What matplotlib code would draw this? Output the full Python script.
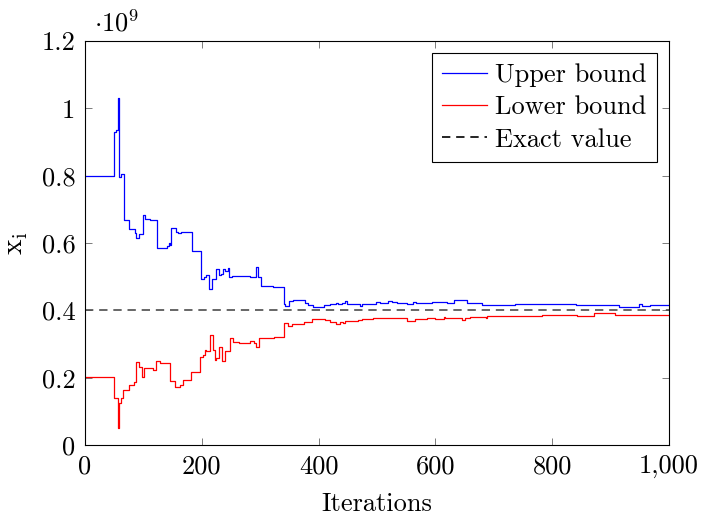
import numpy as np
import matplotlib
matplotlib.use("Agg")
import matplotlib.pyplot as plt
import matplotlib.ticker as mtick

plt.rcParams['font.family'] = 'serif'
plt.rcParams['font.serif'] = ['cmr10', 'DejaVu Serif']
plt.rcParams['mathtext.fontset'] = 'cm'
plt.rcParams['axes.formatter.use_mathtext'] = True

# step breakpoints (iteration, value in units of 1e9)
upper_it = [0, 50, 53, 56, 59, 62, 66, 76, 86, 88, 93, 100, 103, 111, 124, 140, 143, 146,
            148, 155, 160, 165, 184, 198, 204, 207, 213, 218, 225, 230, 233, 236, 239, 245,
            247, 251, 283, 292, 297, 302, 322, 341, 343, 350, 357, 377, 382, 391, 409, 419,
            430, 434, 440, 445, 448, 471, 474, 499, 505, 519, 525, 534, 551, 562, 567, 594,
            620, 631, 654, 665, 680, 737, 840, 914, 948, 954, 968, 1000]
upper_val = [0.800, 0.930, 0.935, 1.030, 0.797, 0.805, 0.668, 0.643, 0.630, 0.614, 0.627,
             0.683, 0.670, 0.668, 0.584, 0.591, 0.601, 0.595, 0.645, 0.634, 0.630, 0.634,
             0.576, 0.492, 0.498, 0.504, 0.463, 0.492, 0.522, 0.504, 0.508, 0.522, 0.517,
             0.525, 0.498, 0.502, 0.498, 0.530, 0.498, 0.473, 0.469, 0.418, 0.413, 0.428,
             0.430, 0.423, 0.415, 0.411, 0.417, 0.419, 0.423, 0.419, 0.421, 0.427, 0.419,
             0.414, 0.419, 0.426, 0.423, 0.427, 0.424, 0.421, 0.419, 0.426, 0.421, 0.426,
             0.421, 0.430, 0.423, 0.421, 0.415, 0.419, 0.415, 0.411, 0.419, 0.413, 0.415,
             0.415]

lower_it = [0, 50, 53, 56, 58, 62, 65, 75, 84, 88, 93, 98, 101, 117, 121, 128, 145, 154,
            163, 167, 182, 197, 202, 205, 208, 214, 219, 222, 225, 230, 235, 239, 249, 254,
            263, 283, 289, 293, 298, 303, 323, 341, 348, 354, 375, 380, 388, 411, 419, 430,
            437, 442, 445, 468, 474, 477, 494, 500, 525, 551, 565, 585, 600, 614, 617, 645,
            651, 659, 686, 688, 783, 842, 871, 908, 1000]
lower_val = [0.201, 0.139, 0.141, 0.051, 0.126, 0.139, 0.163, 0.178, 0.188, 0.246, 0.233,
             0.203, 0.230, 0.222, 0.249, 0.244, 0.190, 0.171, 0.178, 0.193, 0.218, 0.262,
             0.267, 0.282, 0.279, 0.327, 0.282, 0.252, 0.257, 0.290, 0.250, 0.279, 0.317,
             0.307, 0.304, 0.310, 0.304, 0.292, 0.317, 0.319, 0.322, 0.361, 0.354, 0.358,
             0.364, 0.366, 0.373, 0.371, 0.366, 0.358, 0.366, 0.363, 0.369, 0.371, 0.374,
             0.373, 0.378, 0.377, 0.376, 0.369, 0.373, 0.377, 0.374, 0.379, 0.377, 0.370,
             0.377, 0.379, 0.376, 0.383, 0.387, 0.383, 0.391, 0.387, 0.387]

exact_value = 0.4

fig = plt.figure(figsize=(7.01, 5.18), dpi=100)
ax = fig.add_axes([85 / 701, 1 - 445 / 518, 584 / 701, 404 / 518])

ax.plot(upper_it, np.array(upper_val) * 1e9, drawstyle='steps-post', color='blue', lw=0.9,
        label='Upper bound')
ax.plot(lower_it, np.array(lower_val) * 1e9, drawstyle='steps-post', color='red', lw=0.9,
        label='Lower bound')
ax.axhline(exact_value * 1e9, color='0.3', lw=1.2, dashes=(5, 3.5), label='Exact value')

ax.set_xlim(0, 1000)
ax.set_ylim(0, 1.2e9)
ax.set_xticks([0, 200, 400, 600, 800, 1000])
ax.xaxis.set_major_formatter(mtick.FuncFormatter(lambda v, p: '{:,}'.format(int(v))))
ax.set_yticks(np.arange(0, 1.21, 0.2) * 1e9)
ax.yaxis.set_major_formatter(mtick.FuncFormatter(lambda v, p: '{:g}'.format(round(v / 1e9, 1))))
ax.tick_params(direction='in', top=True, right=True, length=5, width=0.6, labelsize=19,
               color='0.4', pad=7)
for s in ax.spines.values():
    s.set_linewidth(0.8)

ax.text(0.015, 1.01, r'$\cdot 10^{9}$', transform=ax.transAxes, fontsize=19,
        ha='left', va='bottom')
ax.set_xlabel('Iterations', fontsize=19, labelpad=10)
ax.set_ylabel(r'$\mathrm{x_i}$', fontsize=21, labelpad=8)

leg = ax.legend(loc='upper right', fontsize=19, fancybox=False, edgecolor='black',
                framealpha=1, handlelength=1.7, handletextpad=0.3, borderpad=0.4,
                labelspacing=0.32, borderaxespad=0.45)
leg.get_frame().set_linewidth(0.8)
leg.get_lines()[2].set_color('black')

fig.savefig('out.png', dpi=100)
